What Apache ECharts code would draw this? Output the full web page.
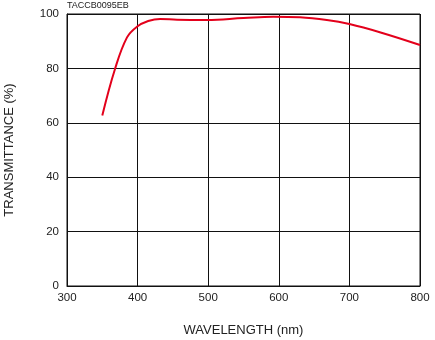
<!DOCTYPE html>
<html>
<head>
<meta charset="utf-8">
<script src="https://cdn.jsdelivr.net/npm/echarts@6/dist/echarts.min.js"></script>
<style>
  html, body { margin: 0; padding: 0; background: #fff; }
  #chart { width: 435px; height: 340px; }
</style>
</head>
<body>
<div id="chart"></div>
<script>
// values
const wavelength = [350, 368, 385, 399, 415, 432, 456, 498, 550, 592, 630, 668, 700, 743, 800];
const transmittance = [62.7, 79.8, 91.4, 95.3, 97.4, 98.2, 97.9, 97.8, 98.5, 99.0, 98.8, 97.8, 96.3, 93.3, 88.6];
const xTicks = [300, 400, 500, 600, 700, 800];
const yTicks = [0, 20, 40, 60, 80, 100];

const font = 'Liberation Sans, Arial, sans-serif';
const myChart = echarts.init(document.getElementById('chart'));

const option = {
  animation: false,
  title: {
    text: 'TACCB0095EB',
    left: 67,
    top: 1,
    padding: 0,
    textStyle: { fontSize: 9, fontWeight: 'normal', color: '#222', fontFamily: font }
  },
  grid: {
    left: 67, right: 15, top: 14, bottom: 54,
    outerBoundsMode: 'none',
    containLabel: false,
    show: true, borderColor: '#111', borderWidth: 1
  },
  xAxis: {
    type: 'value',
    min: xTicks[0], max: xTicks[xTicks.length - 1], interval: 100,
    name: 'WAVELENGTH (nm)',
    nameLocation: 'middle',
    nameGap: 38,
    nameTextStyle: { fontSize: 13, color: '#222', fontFamily: font },
    axisLine: { lineStyle: { color: '#111', width: 1 } },
    axisTick: { show: false },
    axisLabel: { fontSize: 11.5, color: '#222', fontFamily: font, margin: 6 },
    splitLine: { show: true, lineStyle: { color: '#111', width: 1 } }
  },
  yAxis: {
    type: 'value',
    min: yTicks[0], max: yTicks[yTicks.length - 1], interval: 20,
    name: 'TRANSMITTANCE (%)',
    nameLocation: 'middle',
    nameGap: 51,
    nameTextStyle: { fontSize: 13, color: '#222', fontFamily: font },
    axisLine: { show: true, lineStyle: { color: '#111', width: 1 } },
    axisTick: { show: false },
    axisLabel: { fontSize: 11.5, color: '#222', fontFamily: font, margin: 8 },
    splitLine: { show: true, lineStyle: { color: '#111', width: 1 } }
  },
  series: [{
    type: 'line',
    data: wavelength.map((w, i) => [w, transmittance[i]]),
    smooth: 0.4,
    showSymbol: false,
    lineStyle: { color: '#e3001b', width: 2 }
  }]
};
myChart.setOption(option);
</script>
</body>
</html>
